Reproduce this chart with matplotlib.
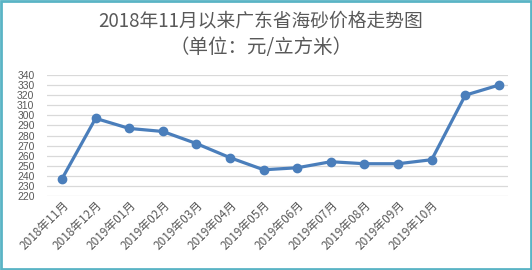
import matplotlib
matplotlib.use("Agg")
import matplotlib.pyplot as plt
from matplotlib.patches import Rectangle

plt.rcParams['font.family'] = ['Noto Sans CJK SC', 'DejaVu Sans']

categories = ["2018年11月", "2018年12月", "2019年01月", "2019年02月", "2019年03月",
              "2019年04月", "2019年05月", "2019年06月", "2019年07月", "2019年08月",
              "2019年09月", "2019年10月", "", ""]
prices = [237, 297, 287, 284, 272, 258, 246, 248, 254, 252, 252, 256, 320, 330]
yticks = list(range(220, 341, 10))

W, H = 532, 270
fig = plt.figure(figsize=(W / 100, H / 100), dpi=100)
ax = fig.add_axes([47 / W, 1 - 196 / H, (508 - 47) / W, (196 - 75) / H])

x = list(range(len(categories)))
ax.plot(x, prices, color='#4a7ebb', lw=2.3, marker='o', markersize=6,
        markerfacecolor='#4a7ebb', markeredgecolor='#4a7ebb', zorder=3)

ax.set_ylim(220, 340)
ax.set_yticks(yticks)
ax.set_yticklabels([str(v) for v in yticks], family='Liberation Sans',
                   fontsize=7.5, color='#595959')
ax.set_xlim(-0.446, 13.27)
ax.set_xticks(x)
ax.set_xticklabels(categories, rotation=45, ha='right', va='top',
                   rotation_mode='anchor', fontsize=8.5, color='#595959')
ax.tick_params(axis='x', length=0, pad=2)
ax.tick_params(axis='y', length=0, pad=9)
ax.grid(axis='y', color='#d9d9d9', lw=0.9)
for s in ax.spines.values():
    s.set_visible(False)

fig.text(0.49, 1 - 21 / H, "2018年11月以来广东省海砂价格走势图", ha='center', va='center',
         fontsize=13.5, color='#595959')
fig.text(0.49, 1 - 48 / H, "（单位：元/立方米）", ha='center', va='center',
         fontsize=14, color='#595959')

fig.patches.append(Rectangle((0.002, 0.004), 0.996, 0.992, transform=fig.transFigure,
                             fill=False, edgecolor='#5ab4c5', lw=2))

fig.savefig("out.png", dpi=100)
